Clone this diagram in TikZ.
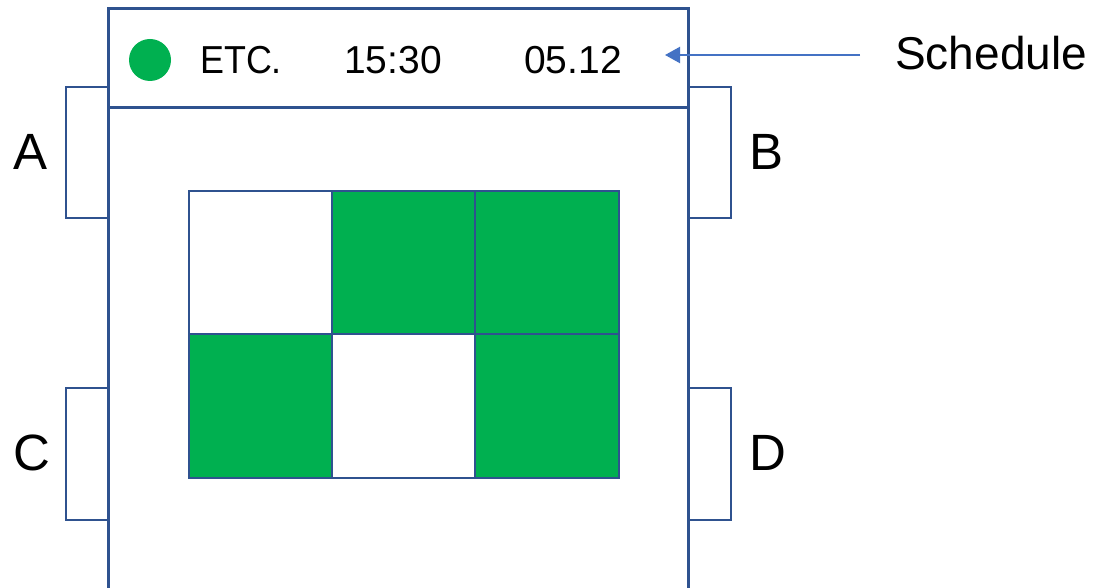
\documentclass[tikz,border=0pt]{standalone}
\usepackage{fontspec}
\setmainfont{Liberation Sans}
\usetikzlibrary{arrows.meta}
\definecolor{frameblue}{HTML}{2F528F}
\definecolor{arrowblue}{HTML}{4472C4}
\definecolor{cellgreen}{HTML}{00B050}
\begin{document}
\begin{tikzpicture}[x=1pt,y=-1pt,
  frameline/.style={draw=frameblue,line width=3pt},
  tabbox/.style={draw=frameblue,line width=2.8pt,fill=white},
  cellbox/.style={draw=frameblue,line width=2.4pt},
  greencell/.style={cellbox,fill=cellgreen},
  whitecell/.style={cellbox,fill=white},
  headtext/.style={inner sep=0pt,anchor=base west,font=\fontsize{39}{39}\selectfont},
  tablabel/.style={inner sep=0pt,font=\fontsize{51}{51}\selectfont},
  schedtext/.style={inner sep=0pt,anchor=base west,font=\fontsize{46}{46}\selectfont}]
\useasboundingbox (0,0) rectangle (1099,588);
\fill[white] (0,0) rectangle (1099,588);
% side tabs
\draw[tabbox] (66,87) rectangle (108,218);
\draw[tabbox] (66,388) rectangle (108,520);
\draw[tabbox] (688,87) rectangle (731,218);
\draw[tabbox] (688,388) rectangle (731,520);
% main frame
\draw[frameline] (108,600) -- (108,9) -- (688,9) -- (688,600);
\draw[frameline] (108,108) -- (688,108);
% header
\fill[cellgreen] (150,60) circle (21);
\node[headtext,xscale=0.92] (etc) at (200,74) {ETC.};
\node[headtext] (time) at (344,74) {15:30};
\node[headtext] (date) at (524,74) {05.12};
% grid
\draw[whitecell] (189,191) rectangle (332,334);
\draw[greencell] (332,191) rectangle (475,334);
\draw[greencell] (475,191) rectangle (619,334);
\draw[greencell] (189,334) rectangle (332,478);
\draw[whitecell] (332,334) rectangle (475,478);
\draw[greencell] (475,334) rectangle (619,478);
% labels
\node[tablabel] (la) at (31,152) {A};
\node[tablabel] (lb) at (766,152) {B};
\node[tablabel] (lc) at (32,453) {C};
\node[tablabel] (ld) at (768,453) {D};
% schedule arrow
\node[schedtext] (sched) at (895,70) {Schedule};
\coordinate (arrstart) at (860,55);
\coordinate (arrtip) at (665,55);
\draw[arrowblue,line width=2.2pt,-{Triangle[length=15pt,width=16pt]}] (arrstart) -- (arrtip);
\end{tikzpicture}
\end{document}
